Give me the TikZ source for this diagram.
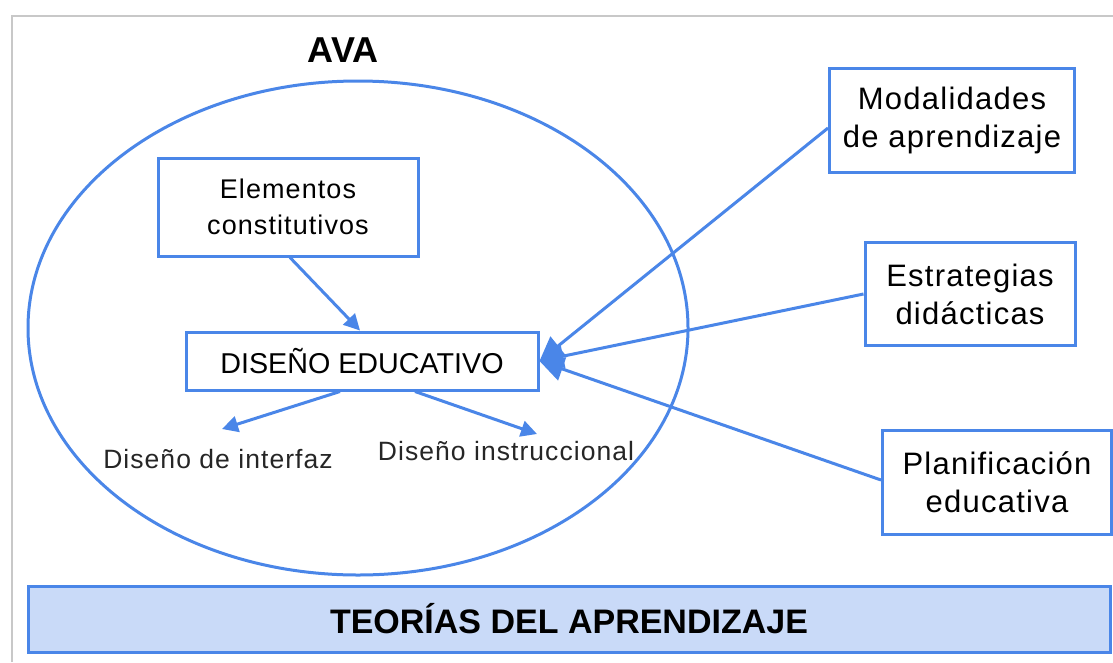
\documentclass[tikz,border=0pt]{standalone}
\usepackage{fontspec}
\setmainfont{Liberation Sans}
\newfontfamily\spacedfont[LetterSpace=4]{Liberation Sans}
\usetikzlibrary{arrows.meta,shapes.geometric}
\definecolor{lineblue}{HTML}{4A86E8}
\definecolor{bandfill}{HTML}{C9DAF8}
\definecolor{framegray}{HTML}{C8C8C8}
\begin{document}
\begin{tikzpicture}[x=1pt,y=-1pt,
 box/.style={draw=lineblue, line width=3pt, fill=white, align=center, inner sep=0pt, anchor=center},
 conn/.style={draw=lineblue, line width=3pt, -{Triangle[length=16pt,width=16pt]}},
 bigconn/.style={draw=lineblue, line width=3pt, -{Triangle[length=24pt,width=24pt]}},
 boxtext/.style={font=\spacedfont\fontsize{31}{38}\selectfont},
 subtext/.style={font=\spacedfont\fontsize{26.5}{30}\selectfont, text=black!85, inner sep=0pt},
]
\useasboundingbox (0,0) rectangle (1113,662);
\fill[white] (0,0) rectangle (1113,662);
\draw[framegray, line width=2.5pt] (12,662) -- (12,16) -- (1113,16);

\node[ellipse, draw=lineblue, line width=3pt, minimum width=660pt, minimum height=494pt, inner sep=0pt] (ava) at (358,328) {};
\node[font=\bfseries\fontsize{36}{40}\selectfont, inner sep=0pt] (avalabel) at (343,50) {AVA};

\node[box, minimum width=260pt, minimum height=98pt, font=\spacedfont\fontsize{27}{36}\selectfont] (elem) at (288,207) {Elementos\\constitutivos};
\node[box, minimum width=352pt, minimum height=58pt, font=\fontsize{28.7}{32}\selectfont] (diseno) at (362,361) {DISEÑO EDUCATIVO};

\node[subtext] (interfaz) at (218,459) {Diseño de interfaz};
\node[subtext] (instr) at (506,451) {Diseño instruccional};
\coordinate (tipI) at (222,429);
\coordinate (tipN) at (537,434);

\node[box, minimum width=245pt, minimum height=104pt, boxtext] (mod) at (952,120) {Modalidades\\de aprendizaje};
\node[box, minimum width=210pt, minimum height=103pt, boxtext] (est) at (970,294) {Estrategias\\didácticas};
\node[box, minimum width=229pt, minimum height=104pt, boxtext] (plan) at (997,482) {Planificación\\educativa};

\node[draw=lineblue, fill=bandfill, line width=3pt, minimum width=1082pt, minimum height=66pt, inner sep=0pt, font=\bfseries\fontsize{34}{38}\selectfont] (teorias) at (569,619) {TEORÍAS DEL APRENDIZAJE};

\draw[conn] ([xshift=2pt]elem.south) -- ([xshift=-2pt]diseno.north);
\draw[conn] ([xshift=-22pt]diseno.south) -- (tipI);
\draw[conn] ([xshift=53pt]diseno.south) -- (tipN);

\draw[bigconn] ([yshift=-8pt]mod.west) -- (diseno.east);
\draw[bigconn] (est.west) -- (diseno.east);
\draw[bigconn] ([yshift=2pt]plan.west) -- (diseno.east);
\end{tikzpicture}
\end{document}
